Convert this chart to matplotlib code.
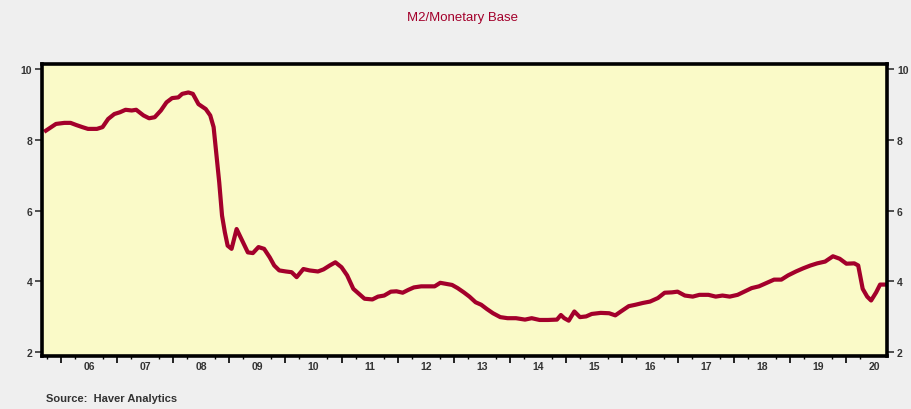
import matplotlib

matplotlib.use("Agg")
import matplotlib.pyplot as plt
import numpy as np

# decimal years and M2 / monetary base ratio
years = [
    2005.73, 2005.91, 2006.06, 2006.17, 2006.27, 2006.38, 2006.48, 2006.64, 2006.74, 2006.84,
    2006.95, 2007.05, 2007.15, 2007.26, 2007.34, 2007.47, 2007.57, 2007.67, 2007.78, 2007.88,
    2007.98, 2008.09, 2008.16, 2008.27, 2008.35, 2008.45, 2008.58, 2008.66, 2008.72, 2008.76,
    2008.82, 2008.87, 2008.92, 2008.97, 2009.04, 2009.13, 2009.23, 2009.33, 2009.42, 2009.52,
    2009.62, 2009.72, 2009.80, 2009.89, 2010.01, 2010.11, 2010.20, 2010.32, 2010.43, 2010.58,
    2010.68, 2010.79, 2010.89, 2011.00, 2011.10, 2011.21, 2011.31, 2011.41, 2011.55, 2011.65,
    2011.76, 2011.88, 2011.98, 2012.09, 2012.19, 2012.29, 2012.42, 2012.55, 2012.66, 2012.76,
    2012.86, 2012.97, 2013.07, 2013.18, 2013.28, 2013.39, 2013.49, 2013.59, 2013.70, 2013.83,
    2013.96, 2014.11, 2014.27, 2014.39, 2014.53, 2014.68, 2014.84, 2014.91, 2014.97, 2015.05,
    2015.15, 2015.25, 2015.36, 2015.46, 2015.62, 2015.77, 2015.88, 2015.98, 2016.12, 2016.24,
    2016.37, 2016.50, 2016.64, 2016.76, 2016.89, 2016.99, 2017.12, 2017.26, 2017.38, 2017.54,
    2017.67, 2017.79, 2017.92, 2018.06, 2018.19, 2018.31, 2018.44, 2018.58, 2018.71, 2018.84,
    2018.96, 2019.10, 2019.23, 2019.36, 2019.48, 2019.62, 2019.76, 2019.88, 2020.00, 2020.14,
    2020.21, 2020.29, 2020.37, 2020.44, 2020.53, 2020.60, 2020.70,
]
ratio = [
    8.26, 8.45, 8.48, 8.48, 8.42, 8.36, 8.31, 8.31, 8.36, 8.59,
    8.73, 8.78, 8.85, 8.83, 8.85, 8.69, 8.61, 8.64, 8.83, 9.06,
    9.18, 9.20, 9.30, 9.34, 9.30, 9.01, 8.87, 8.69, 8.36, 7.74,
    6.80, 5.86, 5.39, 5.01, 4.92, 5.48, 5.15, 4.82, 4.80, 4.97,
    4.92, 4.68, 4.45, 4.31, 4.28, 4.26, 4.12, 4.35, 4.31, 4.28,
    4.34, 4.45, 4.54, 4.40, 4.17, 3.79, 3.65, 3.51, 3.49, 3.57,
    3.60, 3.71, 3.72, 3.68, 3.76, 3.83, 3.86, 3.86, 3.86, 3.96,
    3.93, 3.90, 3.81, 3.69, 3.57, 3.41, 3.34, 3.22, 3.10, 2.99,
    2.96, 2.96, 2.92, 2.96, 2.91, 2.91, 2.92, 3.05, 2.96, 2.89,
    3.15, 2.99, 3.01, 3.08, 3.11, 3.10, 3.04, 3.15, 3.30, 3.34,
    3.39, 3.43, 3.53, 3.68, 3.69, 3.71, 3.60, 3.57, 3.62, 3.62,
    3.57, 3.60, 3.57, 3.62, 3.72, 3.81, 3.86, 3.96, 4.05, 4.05,
    4.17, 4.28, 4.37, 4.45, 4.51, 4.56, 4.71, 4.64, 4.50, 4.51,
    4.45, 3.79, 3.57, 3.46, 3.69, 3.91, 3.91,
]
year_labels = ["06", "07", "08", "09", "10", "11", "12", "13", "14", "15", "16", "17", "18", "19", "20"]
y_ticks = [2, 4, 6, 8, 10]

LINE_COLOR = "#a3002b"
FONT = ["Liberation Sans Narrow", "Liberation Sans", "DejaVu Sans"]


def main() -> None:
    plt.rcParams["font.family"] = FONT

    fig = plt.figure(figsize=(9.12, 4.10), dpi=100, facecolor="#efefef")
    ax = fig.add_axes([0.046, 0.130, 0.927, 0.712])
    ax.set_facecolor("#fafac8")

    ax.plot(years, ratio, color=LINE_COLOR, linewidth=3.0, solid_joinstyle="round")

    ax.set_xlim(2005.66, 2020.73)
    ax.set_ylim(1.9, 10.15)

    for side in ax.spines.values():
        side.set_linewidth(2.6)
        side.set_color("black")

    # y axis on both sides
    ax.set_yticks(y_ticks)
    ax.set_yticklabels([str(v) for v in y_ticks])
    ax.tick_params(axis="y", which="major", direction="out", length=5, width=1.2,
                   left=True, right=True, labelleft=True, labelright=True,
                   labelsize=7.5, pad=2, colors="#333333")
    for lab in ax.get_yticklabels():
        lab.set_fontweight("bold")

    # x axis: year ticks at year starts, quarter minor ticks, labels mid-year
    first_year = 2006
    starts = np.arange(first_year, first_year + len(year_labels) + 1)
    ax.set_xticks(starts[starts <= 2020.73])
    ax.set_xticklabels([])
    quarters = [y + q for y in range(2005, 2021) for q in (0.25, 0.75)]
    ax.set_xticks([q for q in quarters if 2005.66 < q < 2020.73], minor=True)
    ax.tick_params(axis="x", which="major", direction="out", length=5, width=1.2)
    ax.tick_params(axis="x", which="minor", direction="out", length=2.5, width=1.0)

    sec = ax.secondary_xaxis("bottom")
    sec.set_xticks([first_year + i + 0.5 for i in range(len(year_labels))])
    sec.set_xticklabels(year_labels)
    sec.tick_params(length=0, pad=4, labelsize=7.5, colors="#333333")
    sec.spines["bottom"].set_visible(False)
    for lab in sec.get_xticklabels():
        lab.set_fontweight("bold")

    fig.text(0.507, 0.955, "M2/Monetary Base", ha="center", va="center",
             color=LINE_COLOR, fontsize=9.5)
    fig.text(0.050, 0.028, "Source:  Haver Analytics", ha="left", va="center",
             color="#333333", fontsize=8, fontweight="bold")

    fig.savefig("out.png", dpi=100, facecolor=fig.get_facecolor())
    plt.close(fig)


if __name__ == "__main__":
    main()
